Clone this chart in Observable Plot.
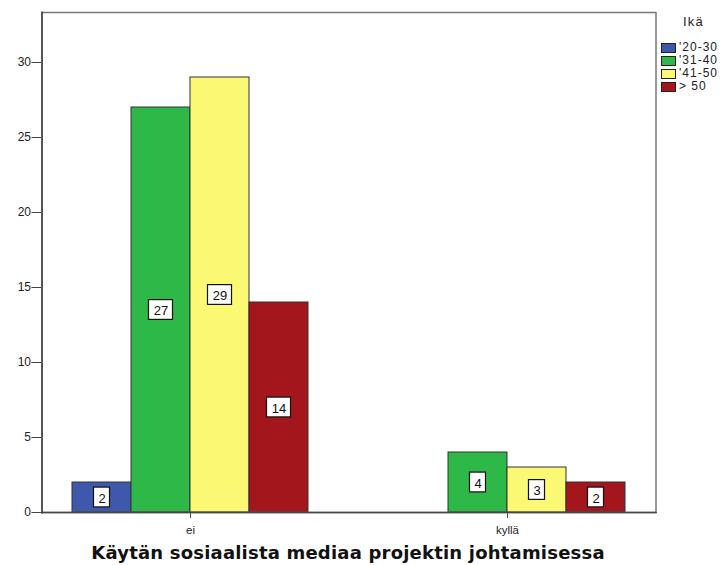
<!DOCTYPE html>
<html>
<head>
<meta charset="utf-8">
<script src="https://cdn.jsdelivr.net/npm/d3@7"></script>
<script src="https://cdn.jsdelivr.net/npm/@observablehq/plot@0.6"></script>
<style>
  body { margin: 0; background: #fff; }
  #wrap { position: relative; width: 726px; height: 565px; }
  #legend { position: absolute; left: 661px; top: 14px; font-family: "Liberation Sans", Arial, sans-serif; color: #222; }
  #legend .ttl { font-size: 13px; line-height: 16px; letter-spacing: 1.2px; margin-left: 22px; margin-bottom: 11px; }
  #legend .row { display: flex; align-items: center; height: 13px; line-height: 13px; font-size: 12px; letter-spacing: 1px; }
  #legend .sw { width: 13px; height: 8px; border: 1px solid #222; margin-right: 3px; flex: none; }
  #title { position: absolute; left: 41px; width: 614px; top: 542px; text-align: center;
           font-family: "DejaVu Sans", sans-serif; font-weight: bold; font-size: 18px;
           letter-spacing: 0.2px; color: #111; white-space: nowrap; }
</style>
</head>
<body>
<div id="wrap">
  <div id="chart"></div>
  <div id="legend"></div>
  <div id="title"></div>
</div>
<script>
const categories = ["ei", "kyllä"];
const ageGroups = ["'20-30", "'31-40", "'41-50", "> 50"];
const valuesEi = [2, 27, 29, 14];
const valuesKylla = [0, 4, 3, 2];
const yTicks = [0, 5, 10, 15, 20, 25, 30];
const colors = ["#3E58AC", "#2EB848", "#FBF873", "#A3171C"];
const legendTitle = "Ikä";
const axisTitle = "Käytän sosiaalista mediaa projektin johtamisessa";

const data = [];
categories.forEach((c, ci) => {
  const vals = ci === 0 ? valuesEi : valuesKylla;
  ageGroups.forEach((a, ai) => data.push({cat: c, age: a, value: vals[ai]}));
});
const shown = data.filter(d => d.value > 0);
const oneDigit = shown.filter(d => d.value < 10);
const twoDigit = shown.filter(d => d.value >= 10);
const boxHalf = 0.66;

// outer padding of the facet band scale, in pixels (frame extends over it)
const outerL = 29.5, outerR = 29.5;

const chart = Plot.plot({
  width: 726,
  height: 540,
  marginLeft: 41,
  marginRight: 71,
  marginTop: 12,
  marginBottom: 28,
  style: {fontFamily: "Liberation Sans, Arial, sans-serif", fontSize: "11px", color: "#222", background: "white"},
  fx: {domain: categories, paddingInner: 0.25, paddingOuter: 0.093, label: null, axis: null},
  x: {domain: ageGroups, padding: 0, axis: null},
  y: {domain: [0, 100 / 3], label: null, axis: null},
  color: {domain: ageGroups, range: colors},
  marks: [
    Plot.axisY({ticks: yTicks, tickSize: 10, tickPadding: 1, label: null, stroke: "#444", fontSize: 12, dx: -outerL}),
    Plot.axisFx({anchor: "bottom", tickSize: 6, tickPadding: 7, label: null, stroke: "#444", fontSize: 11.5}),
    Plot.barY(shown, {fx: "cat", x: "age", y: "value", fill: "age", stroke: "#333", strokeWidth: 1}),
    Plot.barY(oneDigit, {fx: "cat", x: "age", y1: d => d.value / 2 - boxHalf, y2: d => d.value / 2 + boxHalf,
      fill: "white", stroke: "#111", strokeWidth: 1.2, insetLeft: 21.5, insetRight: 21.5}),
    Plot.barY(twoDigit, {fx: "cat", x: "age", y1: d => d.value / 2 - boxHalf, y2: d => d.value / 2 + boxHalf,
      fill: "white", stroke: "#111", strokeWidth: 1.2, insetLeft: 17.5, insetRight: 17.5}),
    Plot.text(shown, {fx: "cat", x: "age", y: d => d.value / 2, text: d => String(d.value),
      fontSize: 13, fill: "#111", dy: 1}),
    Plot.frame({facet: "super", stroke: "#777", strokeWidth: 1.5, insetLeft: -outerL, insetRight: -outerR}),
    Plot.frame({facet: "super", anchor: "left", stroke: "#555", strokeWidth: 2, insetLeft: -outerL, insetRight: -outerR}),
    Plot.frame({facet: "super", anchor: "bottom", stroke: "#444", strokeWidth: 1.5, insetLeft: -outerL, insetRight: -outerR})
  ]
});
document.getElementById("chart").appendChild(chart);

const lg = document.getElementById("legend");
const t = document.createElement("div");
t.className = "ttl"; t.textContent = legendTitle; lg.appendChild(t);
ageGroups.forEach((a, i) => {
  const r = document.createElement("div"); r.className = "row";
  const s = document.createElement("div"); s.className = "sw"; s.style.background = colors[i];
  const l = document.createElement("span"); l.textContent = a;
  r.appendChild(s); r.appendChild(l); lg.appendChild(r);
});
document.getElementById("title").textContent = axisTitle;
</script>
</body>
</html>
